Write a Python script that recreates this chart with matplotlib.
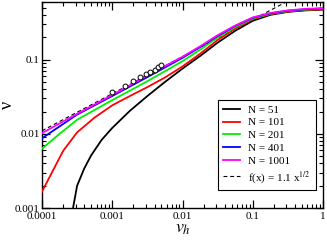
import numpy as np
import matplotlib
matplotlib.use("Agg")
import matplotlib.pyplot as plt
from matplotlib.ticker import FuncFormatter, LogLocator, NullFormatter

plt.rcParams['font.family'] = ['Liberation Serif', 'DejaVu Serif']
plt.rcParams['mathtext.fontset'] = 'stix'

# N = 51
x_51 = [2.69e-4, 2.79e-4, 3.16e-4, 3.98e-4, 5.01e-4, 7.08e-4, 1e-3, 1.78e-3, 3.16e-3,
        5.62e-3, 0.01, 0.0178, 0.0316, 0.0562, 0.1, 0.178, 0.316, 0.562, 1.0]
y_51 = [0.000832, 0.001047, 0.001995, 0.00339, 0.00513, 0.00832, 0.01202, 0.02042, 0.03236,
        0.0501, 0.0759, 0.1122, 0.1698, 0.2455, 0.3350, 0.4027, 0.4416, 0.4624, 0.4732]

# N = 101
x_101 = [1e-4, 2e-4, 3.16e-4, 5.62e-4, 1e-3, 1.78e-3, 3.16e-3, 5.62e-3, 0.01,
         0.0178, 0.0316, 0.0562, 0.1, 0.178, 0.316, 0.562, 1.0]
y_101 = [0.00166, 0.00589, 0.01047, 0.01660, 0.02427, 0.03236, 0.04266, 0.0575, 0.0813,
         0.1202, 0.1841, 0.2630, 0.3508, 0.4121, 0.4467, 0.4677, 0.4786]

# N = 201
x_201 = [1e-4, 1.78e-4, 3.16e-4, 1e-3, 3.16e-3, 0.01, 0.0178, 0.0316, 0.0562,
         0.1, 0.178, 0.316, 0.562, 1.0]
y_201 = [0.00631, 0.0100, 0.01549, 0.02851, 0.0513, 0.0955, 0.1365, 0.1995, 0.2754,
         0.3589, 0.4169, 0.4519, 0.4732, 0.4842]

# N = 401
x_401 = [1e-4, 3.16e-4, 1e-3, 3.16e-3, 0.01, 0.0178, 0.0316, 0.0562,
         0.1, 0.178, 0.316, 0.562, 1.0]
y_401 = [0.00871, 0.01820, 0.03236, 0.0582, 0.1059, 0.1479, 0.2089, 0.2851,
         0.3673, 0.4217, 0.4571, 0.4786, 0.4898]

# N = 1001
x_1001 = [1e-4, 3.16e-4, 1e-3, 3.16e-3, 0.01, 0.0178, 0.0316, 0.0562,
          0.1, 0.178, 0.316, 0.562, 1.0]
y_1001 = [0.01023, 0.01862, 0.03350, 0.0610, 0.1096, 0.1514, 0.2138, 0.2884,
          0.3715, 0.4266, 0.4624, 0.4842, 0.4955]

# open circles
x_pts = [0.001, 0.0015, 0.002, 0.0025, 0.003, 0.0035, 0.004, 0.0045, 0.005]
y_pts = [0.037, 0.0446, 0.051, 0.0577, 0.0637, 0.0689, 0.0733, 0.0787, 0.0837]

series = [
    (x_51, y_51, 'black', 'N = 51'),
    (x_101, y_101, 'red', 'N = 101'),
    (x_201, y_201, '#00ee00', 'N = 201'),
    (x_401, y_401, 'blue', 'N = 401'),
    (x_1001, y_1001, 'magenta', 'N = 1001'),
]

fig = plt.figure(figsize=(3.27, 2.40), dpi=100)
ax = fig.add_axes([0.1284, 0.1333, 0.8596, 0.8584])

xf = np.logspace(-4, 0, 200)
dash_line, = ax.plot(xf, 1.1 * xf ** 0.5, color='black', lw=0.8, ls=(0, (3.5, 2.5)),
                     label=r'f(x) = 1.1 x$^{1/2}$', zorder=2)

handles = []
for xs, ys, c, lab in series:
    h, = ax.plot(xs, ys, color=c, lw=1.3, label=lab, zorder=3)
    handles.append(h)

ax.plot(x_pts, y_pts, 'o', ms=3.5, mfc='white', mec='black', mew=0.7, zorder=4)

ax.set_xscale('log')
ax.set_yscale('log')
ax.set_xlim(1e-4, 1)
ax.set_ylim(1e-3, 0.6)

fmt = FuncFormatter(lambda v, p: '{:g}'.format(v))
ax.xaxis.set_major_formatter(fmt)
ax.yaxis.set_major_formatter(fmt)
ax.yaxis.set_major_locator(LogLocator(base=10, numticks=10))
ax.yaxis.set_minor_locator(LogLocator(base=10, subs=np.arange(2, 10), numticks=10))
ax.xaxis.set_minor_formatter(NullFormatter())
ax.yaxis.set_minor_formatter(NullFormatter())

ax.tick_params(which='both', direction='in', top=True, right=True, labelsize=8)
ax.tick_params(axis='x', pad=3)
ax.tick_params(axis='y', pad=1.5)
ax.tick_params(which='major', length=6, width=0.9)
ax.tick_params(which='minor', length=3, width=0.8)
for s in ax.spines.values():
    s.set_linewidth(1.0)

ax.set_xlabel(r'$v_h$', fontsize=13, labelpad=-1)
ax.set_ylabel('ν', fontsize=13)
ax.yaxis.set_label_coords(-0.092, 0.5)

leg = ax.legend(handles + [dash_line], [h.get_label() for h in handles] + [dash_line.get_label()],
                loc='lower right', bbox_to_anchor=(0.994, 0.062), fontsize=8, frameon=True,
                fancybox=False, edgecolor='black', framealpha=1, handlelength=1.6,
                handletextpad=0.7, labelspacing=0.27, borderpad=0.45)
leg.get_frame().set_linewidth(0.8)

fig.savefig('out.png', dpi=100)
